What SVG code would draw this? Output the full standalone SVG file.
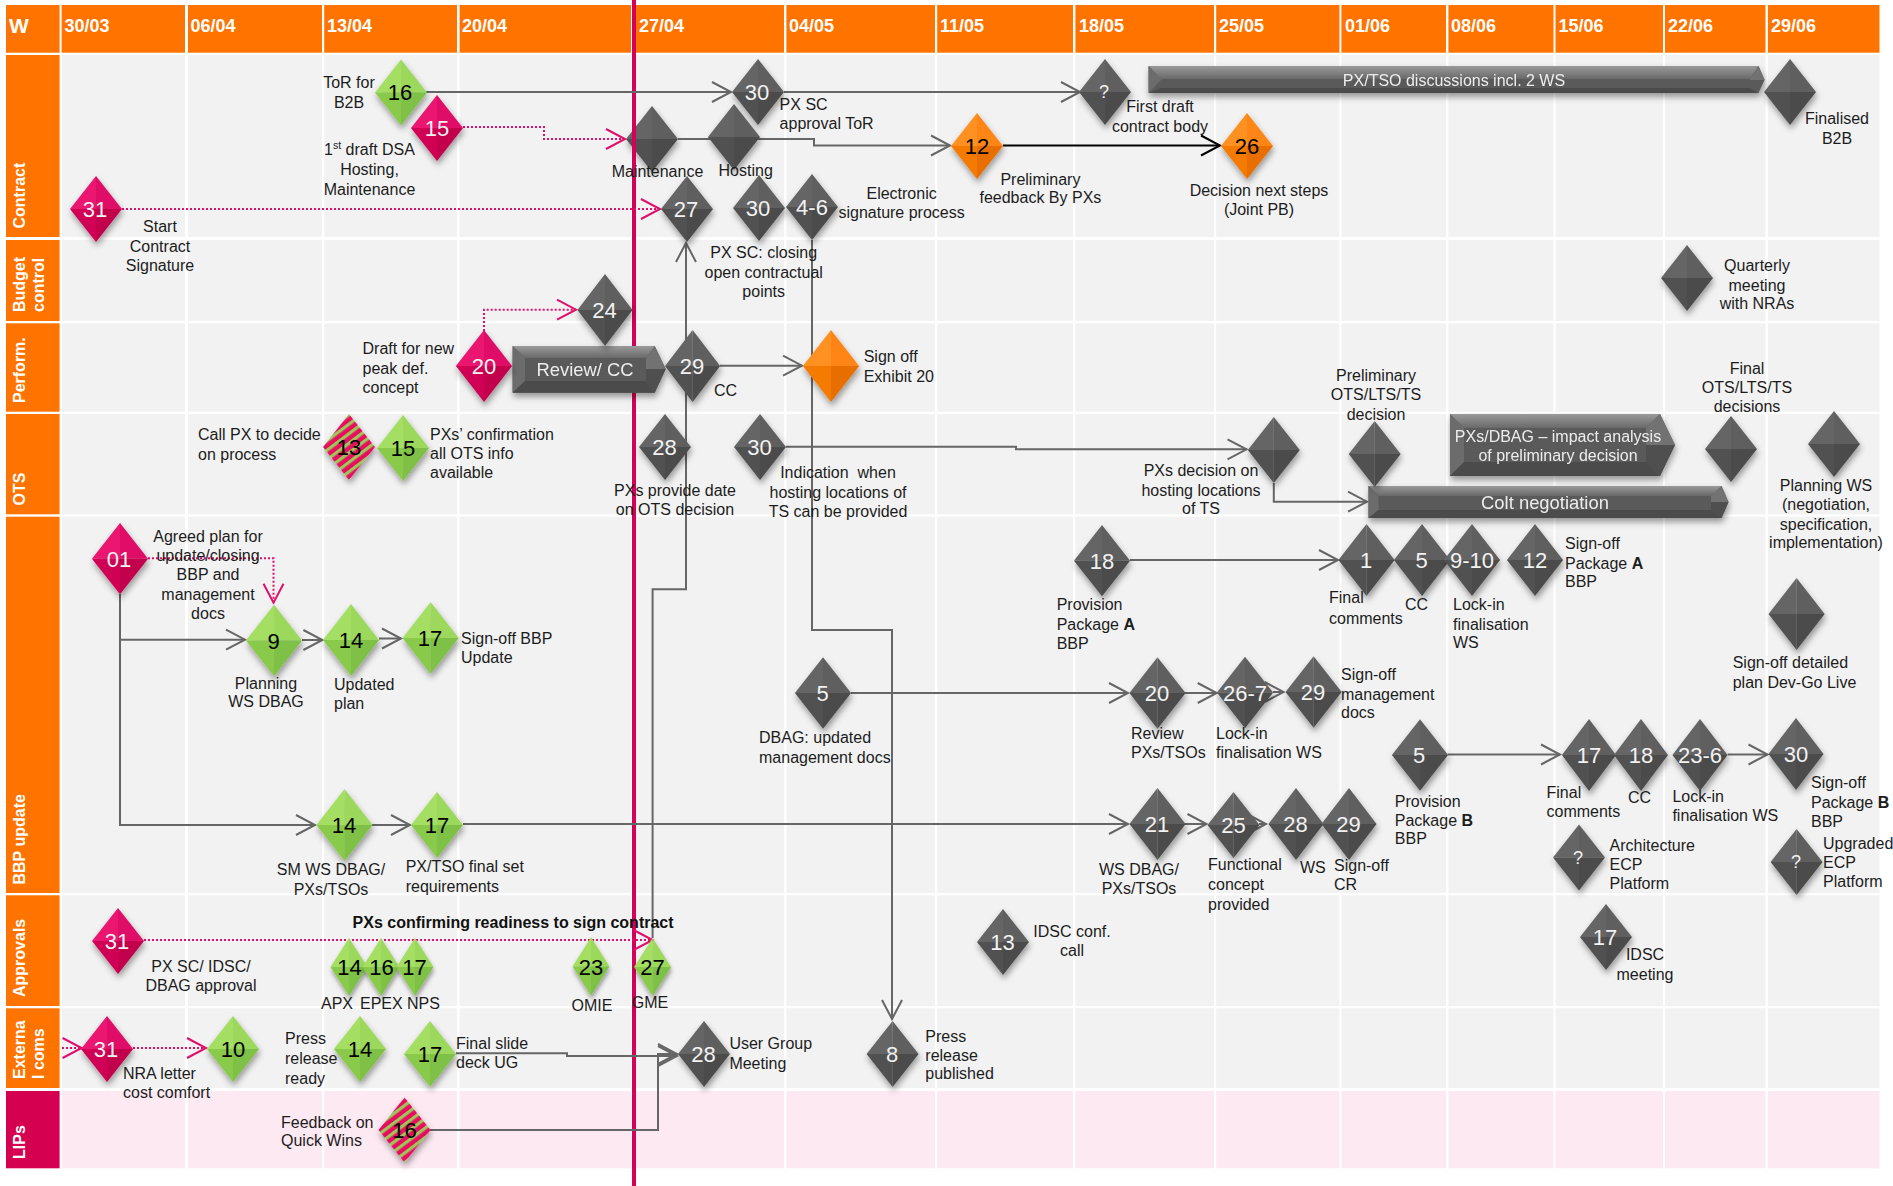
<svg xmlns="http://www.w3.org/2000/svg" width="1893" height="1186" viewBox="0 0 1893 1186">
<style>
.hd{fill:#FF7300}
.cell{fill:#F2F2F2}
.lip{fill:#FDE9F2}
.gl{fill:#fff}
text{font-family:"Liberation Sans",Arial,sans-serif}
.dt{font-size:18px;font-weight:bold;fill:#fff}
.rt{font-size:16px;font-weight:bold;fill:#fff}
.l{font-size:16px;fill:#1c1c1c}
.m{text-anchor:middle}
.nw{font-size:22px;fill:#f2f2f2;text-anchor:middle}
.nk{font-size:22px;fill:#000;text-anchor:middle}
.q{font-size:18px;fill:#f2f2f2;text-anchor:middle}
.s{filter:url(#sh)}
.cg{fill:none;stroke:#666;stroke-width:2;marker-end:url(#ag)}
.ck{fill:none;stroke:#000;stroke-width:2;marker-end:url(#ak)}
.cm{fill:none;stroke:#E0106A;stroke-width:2;stroke-dasharray:2 2;marker-end:url(#am)}
.cp{fill:none;stroke:#666;stroke-width:2}
.b0{fill:#5A5A5A}
.bt{fill:url(#bart)}
.bl{fill:#6C6C6C}
.bb{fill:#4C4C4C}
.br1{fill:#727272}
.br2{fill:#4F4F4F}
.bx{fill:#EDEDED;text-anchor:middle}
</style>
<defs>
<filter id="sh" x="-30%" y="-30%" width="160%" height="170%"><feDropShadow dx="1" dy="4" stdDeviation="3" flood-color="#000" flood-opacity="0.38"/></filter>
<linearGradient id="bart" x1="0" y1="0" x2="0" y2="1"><stop offset="0" stop-color="#9A9A9A"/><stop offset="1" stop-color="#696969"/></linearGradient>
<pattern id="stripes" patternUnits="userSpaceOnUse" width="7.6" height="7.6" patternTransform="rotate(-37)"><rect width="7.6" height="7.6" fill="#E8105F"/><rect width="7.6" height="3.2" fill="#9CC85A"/></pattern>
<marker id="ag" markerUnits="userSpaceOnUse" markerWidth="24" markerHeight="26" refX="21" refY="13" orient="auto" viewBox="0 0 24 26"><path d="M2 3L21 13L2 23" fill="none" stroke="#666" stroke-width="2"/></marker>
<marker id="ak" markerUnits="userSpaceOnUse" markerWidth="24" markerHeight="26" refX="21" refY="13" orient="auto" viewBox="0 0 24 26"><path d="M2 3L21 13L2 23" fill="none" stroke="#000" stroke-width="2"/></marker>
<marker id="am" markerUnits="userSpaceOnUse" markerWidth="24" markerHeight="26" refX="21" refY="13" orient="auto" viewBox="0 0 24 26"><path d="M2 3L21 13L2 23" fill="none" stroke="#E0106A" stroke-width="2"/></marker>
<g id="dg"><polygon points="0,-33 -26,0 0,0" fill="#656565"/><polygon points="0,-33 26,0 0,0" fill="#5F5F5F"/><polygon points="-26,0 0,33 0,0" fill="#515151"/><polygon points="26,0 0,33 0,0" fill="#4B4B4B"/></g>
<g id="dv"><polygon points="0,-33 -26,0 0,0" fill="#A4DE64"/><polygon points="0,-33 26,0 0,0" fill="#9BD85C"/><polygon points="-26,0 0,33 0,0" fill="#8ACA4C"/><polygon points="26,0 0,33 0,0" fill="#7FC046"/></g>
<g id="dm"><polygon points="0,-33 -26,0 0,0" fill="#EA1470"/><polygon points="0,-33 26,0 0,0" fill="#E00E68"/><polygon points="-26,0 0,33 0,0" fill="#D00055"/><polygon points="26,0 0,33 0,0" fill="#C2004C"/></g>
<g id="do"><polygon points="0,-33 -26,0 0,0" fill="#FF9020"/><polygon points="0,-33 26,0 0,0" fill="#FF8512"/><polygon points="-26,0 0,33 0,0" fill="#F57A05"/><polygon points="26,0 0,33 0,0" fill="#E86E00"/></g>
</defs>

<g id="grid">
<rect class="hd" x="6" y="5" width="53.6" height="47.7"/>
<rect class="hd" x="61.6" y="5" width="1817.9" height="47.7"/>
<rect class="cell" x="61.6" y="55" width="1817.9" height="182"/>
<rect class="cell" x="61.6" y="240" width="1817.9" height="81"/>
<rect class="cell" x="61.6" y="323.3" width="1817.9" height="88.4"/>
<rect class="cell" x="61.6" y="414" width="1817.9" height="100.3"/>
<rect class="cell" x="61.6" y="516.7" width="1817.9" height="376.3"/>
<rect class="cell" x="61.6" y="895.3" width="1817.9" height="110.7"/>
<rect class="cell" x="61.6" y="1008.3" width="1817.9" height="79.7"/>
<rect class="lip" x="61.6" y="1091" width="1817.9" height="77.3"/>
<rect class="gl" x="185" y="5" width="3" height="1164"/>
<rect class="gl" x="322" y="5" width="2.2" height="1164"/>
<rect class="gl" x="457" y="5" width="2.6" height="1164"/>
<rect class="gl" x="631" y="5" width="3" height="1164"/>
<rect class="gl" x="784" y="5" width="2.4" height="1164"/>
<rect class="gl" x="935" y="5" width="2.2" height="1164"/>
<rect class="gl" x="1073" y="5" width="2.4" height="1164"/>
<rect class="gl" x="1214" y="5" width="2.2" height="1164"/>
<rect class="gl" x="1339.4" y="5" width="2" height="1164"/>
<rect class="gl" x="1446" y="5" width="2.4" height="1164"/>
<rect class="gl" x="1553.5" y="5" width="2" height="1164"/>
<rect class="gl" x="1663" y="5" width="2" height="1164"/>
<rect class="gl" x="1765.5" y="5" width="2.4" height="1164"/>
<rect class="hd" x="6" y="55" width="53.6" height="182"/>
<rect class="hd" x="6" y="240" width="53.6" height="81"/>
<rect class="hd" x="6" y="323.3" width="53.6" height="88.4"/>
<rect class="hd" x="6" y="516.7" width="53.6" height="376.3"/>
<rect class="hd" x="6" y="414" width="53.6" height="100.3"/>
<rect class="hd" x="6" y="895.3" width="53.6" height="110.7"/>
<rect class="hd" x="6" y="1008.3" width="53.6" height="79.7"/>
<rect x="6" y="1091" width="53.6" height="77.3" fill="#D5004F"/>
</g>

<g id="headers">
<text x="9" y="33" font-size="21" font-weight="bold" fill="#fff">W</text>
<text class="dt" x="64.5" y="32">30/03</text>
<text class="dt" x="190.5" y="32">06/04</text>
<text class="dt" x="327" y="32">13/04</text>
<text class="dt" x="462" y="32">20/04</text>
<text class="dt" x="639" y="32">27/04</text>
<text class="dt" x="789" y="32">04/05</text>
<text class="dt" x="940" y="32">11/05</text>
<text class="dt" x="1079" y="32">18/05</text>
<text class="dt" x="1219" y="32">25/05</text>
<text class="dt" x="1345" y="32">01/06</text>
<text class="dt" x="1451" y="32">08/06</text>
<text class="dt" x="1558.5" y="32">15/06</text>
<text class="dt" x="1668" y="32">22/06</text>
<text class="dt" x="1771" y="32">29/06</text>
<text class="rt" transform="translate(25 228.5) rotate(-90)">Contract</text>
<text class="rt" transform="translate(25 312) rotate(-90)">Budget</text>
<text class="rt" transform="translate(44 312) rotate(-90)">control</text>
<text class="rt" transform="translate(25 403) rotate(-90)">Perform.</text>
<text class="rt" transform="translate(25 505.5) rotate(-90)">OTS</text>
<text class="rt" transform="translate(25 884.5) rotate(-90)">BBP update</text>
<text class="rt" transform="translate(25 997) rotate(-90)">Approvals</text>
<text class="rt" transform="translate(25 1079) rotate(-90)">Externa</text>
<text class="rt" transform="translate(44 1079) rotate(-90)">l coms</text>
<text class="rt" transform="translate(25 1159) rotate(-90)">LIPs</text>
</g>

<g id="n-maintenance"><use class="s" href="#dg" transform="translate(652 139)"/></g>

<rect id="today-line" x="632" y="0" width="4" height="1186" fill="#D50057"/>

<g id="connectors">
<path class="cg" d="M426 92H731"/>
<path class="cg" d="M784 92H1080"/>
<path class="cm" d="M463 127H544V139H625"/>
<path class="cm" d="M122 209H660"/>
<path class="cg" d="M678 139H814V145.5H950"/>
<path class="ck" d="M1003 145.5H1220"/>
<path class="cm" d="M484 331V309.7H576"/>
<path class="cg" d="M652.6 938V589.3H686V243"/>
<path class="cg" d="M812 240V630H892V1019"/>
<path class="cg" d="M720 365.7H802"/>
<path class="cg" d="M786 446.7H1016V449.3H1246.5"/>
<path class="cg" d="M1273.8 483V501.7H1367"/>
<path class="cg" d="M1130 560H1338"/>
<path class="cg" d="M851 693H1128"/>
<path class="cg" d="M1185 693H1216.7"/>
<path class="cg" d="M1273 692H1283.6"/>
<path class="cg" d="M1447.6 754.5H1560"/>
<path class="cg" d="M1727.7 754.5H1767.5"/>
<path class="cm" d="M148 558.3H273.5V602.7"/>
<path class="cg" d="M120 594V825H315"/>
<path class="cg" d="M120 639.7H245"/>
<path class="cg" d="M302 640H322.4"/>
<path class="cg" d="M379 638.5H401"/>
<path class="cg" d="M372 825H410"/>
<path class="cg" d="M463 824H1128"/>
<path class="cg" d="M1185 824H1206.5"/>
<path class="cg" d="M1259 824H1266"/>
<path class="cm" d="M144 940H652.6"/>
<path class="cm" d="M62 1048H81.6"/>
<path class="cm" d="M133 1048H206"/>
<path class="cg" d="M456 1053.3H567V1056H677"/>
<path class="cg" d="M430 1130H658V1054H677"/>
</g>

<g id="n-px-tso-bar" class="s">
<polygon class="b0" points="1148.6,66 1758.5,66 1764.6,80 1758.5,93 1148.6,93"/>
<polygon class="bt" points="1148.6,66 1758.5,66 1750,79 1161,79"/>
<polygon class="bl" points="1148.6,66 1161,79 1161,80 1148.6,93"/>
<polygon class="br1" points="1758.5,66 1764.6,80 1750,80 1750,79"/>
<polygon class="bb" points="1148.6,93 1758.5,93 1750,88 1161,88"/>
<text class="l bx" x="1454" y="86">PX/TSO discussions incl. 2 WS</text>
</g>
<g id="n-review-bar" class="s">
<polygon class="b0" points="512.6,346 654.7,346 665.7,369 654.7,392.7 512.6,392.7"/>
<polygon class="bt" points="512.6,346 654.7,346 646,358 525,358"/>
<polygon class="bl" points="512.6,346 525,358 525,381 512.6,392.7"/>
<polygon class="bb" points="512.6,392.7 654.7,392.7 646,381 525,381"/>
<polygon class="br1" points="654.7,346 665.7,369 646,369 646,358"/>
<polygon class="br2" points="665.7,369 654.7,392.7 646,381 646,369"/>
<text class="bx" x="585" y="376" font-size="18.4">Review/ CC</text>
</g>
<g id="n-impact-bar" class="s">
<polygon class="b0" points="1450,414 1660,414 1675,445 1660,476 1450,476"/>
<polygon class="bt" points="1450,414 1660,414 1646,428 1464,428"/>
<polygon class="bl" points="1450,414 1464,428 1464,462 1450,476"/>
<polygon class="bb" points="1450,476 1660,476 1646,462 1464,462"/>
<polygon class="br1" points="1660,414 1675,445 1646,445 1646,428"/>
<polygon class="br2" points="1675,445 1660,476 1646,462 1646,445"/>
<text class="l bx"><tspan x="1558" y="441.5">PXs/DBAG – impact analysis</tspan><tspan x="1558" y="460.5">of preliminary decision</tspan></text>
</g>
<g id="n-colt-bar" class="s">
<polygon class="b0" points="1368.5,486 1721.6,486 1728.5,502 1721.6,518 1368.5,518"/>
<polygon class="bt" points="1368.5,486 1721.6,486 1711,496 1378.5,496"/>
<polygon class="bl" points="1368.5,486 1378.5,496 1378.5,510 1368.5,518"/>
<polygon class="bb" points="1368.5,518 1721.6,518 1711,510 1378.5,510"/>
<polygon class="br1" points="1721.6,486 1728.5,502 1711,502 1711,496"/>
<polygon class="br2" points="1728.5,502 1721.6,518 1711,510 1711,502"/>
<text class="bx" x="1545" y="509" font-size="18.4">Colt negotiation</text>
</g>

<g id="n-c16"><use class="s" href="#dv" transform="translate(401 92.5)"/><text class="nk" x="400" y="100">16</text><text class="l m"><tspan x="349" y="88">ToR for</tspan><tspan x="349" y="107.5">B2B</tspan></text></g>
<g id="n-c15"><use class="s" href="#dm" transform="translate(437 128)"/><text class="nw" x="437" y="135.5">15</text><text class="l m"><tspan x="369.5" y="155">1<tspan dy="-6" font-size="10.5">st</tspan><tspan dy="6"> draft DSA</tspan></tspan><tspan x="369.5" y="174.5">Hosting,</tspan><tspan x="369.5" y="194.5">Maintenance</tspan></text></g>
<g id="n-c31"><use class="s" href="#dm" transform="translate(96 209)"/><text class="nw" x="95" y="217">31</text><text class="l m"><tspan x="160" y="232">Start</tspan><tspan x="160" y="251.5">Contract</tspan><tspan x="160" y="270.5">Signature</tspan></text></g>
<g id="n-c30a"><use class="s" href="#dg" transform="translate(758 92)"/><text class="nw" x="757" y="100">30</text><text class="l"><tspan x="779.6" y="110">PX SC</tspan><tspan x="779.6" y="129">approval ToR</tspan></text></g>
<g id="n-cq"><use class="s" href="#dg" transform="translate(1105 92)"/><text class="q" x="1104" y="98">?</text><text class="l m"><tspan x="1160" y="112">First draft</tspan><tspan x="1160" y="131.5">contract body</tspan></text></g>
<g id="n-hosting"><use class="s" href="#dg" transform="translate(734 137)"/><text class="l m" x="745.7" y="175.5">Hosting</text></g>
<g id="n-maintenance-label"><text class="l m" x="657.5" y="177">Maintenance</text></g>
<g id="n-c12"><use class="s" href="#do" transform="translate(977 146)"/><text class="nk" x="977" y="154">12</text><text class="l m"><tspan x="1040.4" y="184.5">Preliminary</tspan><tspan x="1040.4" y="203">feedback By PXs</tspan></text></g>
<g id="n-c26"><use class="s" href="#do" transform="translate(1247 146)"/><text class="nk" x="1247" y="154">26</text><text class="l m"><tspan x="1259" y="195.5">Decision next steps</tspan><tspan x="1259" y="214.5">(Joint PB)</tspan></text></g>
<g id="n-c27"><use class="s" href="#dg" transform="translate(687 209)"/><text class="nw" x="686" y="217">27</text></g>
<g id="n-c30b"><use class="s" href="#dg" transform="translate(759 208)"/><text class="nw" x="758" y="216">30</text><text class="l m"><tspan x="763.7" y="258">PX SC: closing</tspan><tspan x="763.7" y="277.5">open contractual</tspan><tspan x="763.7" y="296.5">points</tspan></text></g>
<g id="n-c46"><use class="s" href="#dg" transform="translate(812 207)"/><text class="nw" x="812" y="215">4-6</text><text class="l m"><tspan x="901.6" y="199">Electronic</tspan><tspan x="901.6" y="218">signature process</tspan></text></g>
<g id="n-cfinal"><use class="s" href="#dg" transform="translate(1790 92)"/><text class="l m"><tspan x="1837" y="124">Finalised</tspan><tspan x="1837" y="144">B2B</tspan></text></g>

<g id="n-b-quarterly"><use class="s" href="#dg" transform="translate(1687 278)"/><text class="l m"><tspan x="1757" y="271">Quarterly</tspan><tspan x="1757" y="290.5">meeting</tspan><tspan x="1757" y="309">with NRAs</tspan></text></g>
<g id="n-b24"><use class="s" href="#dg" transform="translate(605 310) scale(1.06 1.09)"/><text class="nw" x="604.5" y="318">24</text></g>

<g id="n-p20"><use class="s" href="#dm" transform="translate(484 366) scale(1.08 1.09)"/><text class="nw" x="484" y="374">20</text><text class="l"><tspan x="362.5" y="354">Draft for new</tspan><tspan x="362.5" y="374">peak def.</tspan><tspan x="362.5" y="393">concept</tspan></text></g>
<g id="n-p29"><use class="s" href="#dg" transform="translate(692.6 366) scale(1.06 1.09)"/><text class="nw" x="692" y="374">29</text><text class="l" x="714" y="395.5">CC</text></g>
<g id="n-psign"><use class="s" href="#do" transform="translate(831 366) scale(1.08 1.09)"/><text class="l"><tspan x="863.7" y="362">Sign off</tspan><tspan x="863.7" y="382">Exhibit 20</tspan></text></g>

<g id="n-o13"><polygon class="s" points="349,414 375,447 349,480 323,447" fill="url(#stripes)"/><text class="nk" x="349" y="455">13</text><text class="l"><tspan x="198" y="440">Call PX to decide</tspan><tspan x="198" y="459.5">on process</tspan></text></g>
<g id="n-o15"><use class="s" href="#dv" transform="translate(403 448)"/><text class="nk" x="403" y="456">15</text><text class="l"><tspan x="430" y="440">PXs’ confirmation</tspan><tspan x="430" y="459">all OTS info</tspan><tspan x="430" y="478">available</tspan></text></g>
<g id="n-o28"><use class="s" href="#dg" transform="translate(665 447)"/><text class="nw" x="664.5" y="455">28</text><text class="l m"><tspan x="675" y="495.5">PXs provide date</tspan><tspan x="675" y="515">on OTS decision</tspan></text></g>
<g id="n-o30"><use class="s" href="#dg" transform="translate(760 447)"/><text class="nw" x="759.5" y="455">30</text><text class="l m" xml:space="preserve"><tspan x="838" y="478">Indication  when</tspan><tspan x="838" y="498">hosting locations of</tspan><tspan x="838" y="517">TS can be provided</tspan></text></g>
<g id="n-o-decision"><use class="s" href="#dg" transform="translate(1273.8 450)"/><text class="l m"><tspan x="1201" y="476">PXs decision on</tspan><tspan x="1201" y="495.5">hosting locations</tspan><tspan x="1201" y="514">of TS</tspan></text></g>
<g id="n-o-prelim"><use class="s" href="#dg" transform="translate(1374.7 454)"/><text class="l m"><tspan x="1376" y="381">Preliminary</tspan><tspan x="1376" y="400">OTS/LTS/TS</tspan><tspan x="1376" y="419.5">decision</tspan></text></g>
<g id="n-o-final"><use class="s" href="#dg" transform="translate(1731 449)"/><text class="l m"><tspan x="1747" y="374">Final</tspan><tspan x="1747" y="393">OTS/LTS/TS</tspan><tspan x="1747" y="412">decisions</tspan></text></g>
<g id="n-o-planning"><use class="s" href="#dg" transform="translate(1834 444)"/><text class="l m"><tspan x="1826" y="490.5">Planning WS</tspan><tspan x="1826" y="509.5">(negotiation,</tspan><tspan x="1826" y="529.5">specification,</tspan><tspan x="1826" y="548">implementation)</tspan></text></g>

<g id="n-b01"><use class="s" href="#dm" transform="translate(120 558.7) scale(1.08 1.08)"/><text class="nw" x="119" y="567">01</text><text class="l m"><tspan x="208" y="542">Agreed plan for</tspan><tspan x="208" y="561">update/closing</tspan><tspan x="208" y="580">BBP and</tspan><tspan x="208" y="600">management</tspan><tspan x="208" y="619">docs</tspan></text></g>
<g id="n-b9"><use class="s" href="#dv" transform="translate(274 640.5) scale(1.08 1.08)"/><text class="nk" x="273.5" y="648.5">9</text><text class="l m"><tspan x="266" y="688.5">Planning</tspan><tspan x="266" y="707">WS DBAG</tspan></text></g>
<g id="n-b14"><use class="s" href="#dv" transform="translate(351 640) scale(1.08 1.09)"/><text class="nk" x="351" y="648">14</text><text class="l"><tspan x="334" y="690">Updated</tspan><tspan x="334" y="709">plan</tspan></text></g>
<g id="n-b17"><use class="s" href="#dv" transform="translate(430.6 638) scale(1.08 1.09)"/><text class="nk" x="430" y="646">17</text><text class="l"><tspan x="461" y="644">Sign-off BBP</tspan><tspan x="461" y="663">Update</tspan></text></g>
<g id="n-b18"><use class="s" href="#dg" transform="translate(1102 560.7) scale(1.08 1.08)"/><text class="nw" x="1102" y="569">18</text><text class="l"><tspan x="1056.7" y="610">Provision</tspan><tspan x="1056.7" y="630">Package <tspan font-weight="bold">A</tspan></tspan><tspan x="1056.7" y="649">BBP</tspan></text></g>
<g id="n-b1"><use class="s" href="#dg" transform="translate(1366.5 560) scale(1.08 1.09)"/><text class="nw" x="1366" y="568">1</text><text class="l"><tspan x="1329" y="603">Final</tspan><tspan x="1329" y="623.5">comments</tspan></text></g>
<g id="n-b5a"><use class="s" href="#dg" transform="translate(1422 560) scale(1.08 1.09)"/><text class="nw" x="1421.5" y="568">5</text><text class="l" x="1405" y="610">CC</text></g>
<g id="n-b910"><use class="s" href="#dg" transform="translate(1472 560) scale(1.08 1.09)"/><text class="nw" x="1472" y="568">9-10</text><text class="l"><tspan x="1453" y="610">Lock-in</tspan><tspan x="1453" y="629.5">finalisation</tspan><tspan x="1453" y="648">WS</tspan></text></g>
<g id="n-b12"><use class="s" href="#dg" transform="translate(1535 560) scale(1.08 1.09)"/><text class="nw" x="1535" y="568">12</text><text class="l"><tspan x="1565" y="549">Sign-off</tspan><tspan x="1565" y="568.5">Package <tspan font-weight="bold">A</tspan></tspan><tspan x="1565" y="587">BBP</tspan></text></g>
<g id="n-b-detailed"><use class="s" href="#dg" transform="translate(1796.6 614) scale(1.08 1.09)"/><text class="l"><tspan x="1732.7" y="668">Sign-off detailed</tspan><tspan x="1732.7" y="687.5">plan Dev-Go Live</tspan></text></g>
<g id="n-b5b"><use class="s" href="#dg" transform="translate(823 693) scale(1.08 1.08)"/><text class="nw" x="822.5" y="701">5</text><text class="l"><tspan x="759" y="743">DBAG: updated</tspan><tspan x="759" y="762.5">management docs</tspan></text></g>
<g id="n-b20"><use class="s" href="#dg" transform="translate(1157.5 693) scale(1.08 1.08)"/><text class="nw" x="1157" y="701">20</text><text class="l"><tspan x="1131" y="739">Review</tspan><tspan x="1131" y="758">PXs/TSOs</tspan></text></g>
<g id="n-b267"><use class="s" href="#dg" transform="translate(1245 692.5) scale(1.08 1.08)"/><text class="nw" x="1245" y="700.5">26-7</text><text class="l"><tspan x="1216" y="739">Lock-in</tspan><tspan x="1216" y="758">finalisation WS</tspan></text></g>
<g id="n-b29a"><use class="s" href="#dg" transform="translate(1313.6 692) scale(1.08 1.08)"/><text class="nw" x="1313" y="700">29</text><text class="l"><tspan x="1341" y="680">Sign-off</tspan><tspan x="1341" y="699.5">management</tspan><tspan x="1341" y="718">docs</tspan></text></g>
<g id="n-b5c"><use class="s" href="#dg" transform="translate(1420 755) scale(1.08 1.08)"/><text class="nw" x="1419" y="763">5</text><text class="l"><tspan x="1394.8" y="806.5">Provision</tspan><tspan x="1394.8" y="825.5">Package <tspan font-weight="bold">B</tspan></tspan><tspan x="1394.8" y="844">BBP</tspan></text></g>
<g id="n-b17b"><use class="s" href="#dg" transform="translate(1589 755) scale(1.04 1.09)"/><text class="nw" x="1589" y="763">17</text><text class="l"><tspan x="1546.5" y="797.5">Final</tspan><tspan x="1546.5" y="817">comments</tspan></text></g>
<g id="n-b18b"><use class="s" href="#dg" transform="translate(1641 755) scale(1.04 1.09)"/><text class="nw" x="1641" y="763">18</text><text class="l" x="1628" y="803">CC</text></g>
<g id="n-b236"><use class="s" href="#dg" transform="translate(1700 755) scale(1.06 1.09)"/><text class="nw" x="1700" y="763">23-6</text><text class="l"><tspan x="1672.4" y="801.5">Lock-in</tspan><tspan x="1672.4" y="820.5">finalisation WS</tspan></text></g>
<g id="n-b30"><use class="s" href="#dg" transform="translate(1796 754) scale(1.06 1.09)"/><text class="nw" x="1796" y="762">30</text><text class="l"><tspan x="1811" y="788">Sign-off</tspan><tspan x="1811" y="807.5">Package <tspan font-weight="bold">B</tspan></tspan><tspan x="1811" y="827">BBP</tspan></text></g>
<g id="n-b14b"><use class="s" href="#dv" transform="translate(344.5 825) scale(1.08 1.09)"/><text class="nk" x="344" y="833">14</text><text class="l m"><tspan x="331" y="875">SM WS DBAG/</tspan><tspan x="331" y="895">PXs/TSOs</tspan></text></g>
<g id="n-b17c"><use class="s" href="#dv" transform="translate(437 825)"/><text class="nk" x="437" y="833">17</text><text class="l"><tspan x="405.7" y="872">PX/TSO final set</tspan><tspan x="405.7" y="891.5">requirements</tspan></text></g>
<g id="n-b21"><use class="s" href="#dg" transform="translate(1157.5 824) scale(1.08 1.09)"/><text class="nw" x="1157" y="832">21</text><text class="l m"><tspan x="1139" y="875">WS DBAG/</tspan><tspan x="1139" y="894">PXs/TSOs</tspan></text></g>
<g id="n-b25"><use class="s" href="#dg" transform="translate(1233.5 825)"/><text class="nw" x="1233.5" y="833">25</text><text class="l"><tspan x="1208" y="870">Functional</tspan><tspan x="1208" y="889.5">concept</tspan><tspan x="1208" y="909.5">provided</tspan></text></g>
<g id="n-b28"><use class="s" href="#dg" transform="translate(1296 824) scale(1.06 1.09)"/><text class="nw" x="1295.5" y="832">28</text><text class="l" x="1300" y="873">WS</text></g>
<g id="n-b29b"><use class="s" href="#dg" transform="translate(1349 824) scale(1.06 1.09)"/><text class="nw" x="1348.5" y="832">29</text><text class="l"><tspan x="1334" y="871">Sign-off</tspan><tspan x="1334" y="890">CR</tspan></text></g>
<g id="n-bq1"><use class="s" href="#dg" transform="translate(1579 857.5)"/><text class="q" x="1578" y="863.5">?</text><text class="l"><tspan x="1609.6" y="851">Architecture</tspan><tspan x="1609.6" y="870">ECP</tspan><tspan x="1609.6" y="889">Platform</tspan></text></g>
<g id="n-bq2"><use class="s" href="#dg" transform="translate(1796.6 862)"/><text class="q" x="1796" y="868">?</text><text class="l"><tspan x="1823" y="849">Upgraded</tspan><tspan x="1823" y="868">ECP</tspan><tspan x="1823" y="887">Platform</tspan></text></g>

<g id="n-a31"><use class="s" href="#dm" transform="translate(118 941)"/><text class="nw" x="117" y="949">31</text><text class="l m"><tspan x="201" y="972">PX SC/ IDSC/</tspan><tspan x="201" y="991">DBAG approval</tspan></text></g>
<text id="t-readiness" x="352.6" y="927.5" font-size="16" font-weight="bold" fill="#111">PXs confirming readiness to sign contract</text>
<g id="n-a14"><use class="s" href="#dv" transform="translate(349 967) scale(.71 .88)"/><text class="nk" x="349.5" y="975">14</text><text class="l" x="321" y="1009">APX</text></g>
<g id="n-a16"><use class="s" href="#dv" transform="translate(381 967) scale(.71 .88)"/><text class="nk" x="381.5" y="975">16</text><text class="l" x="360" y="1009">EPEX</text></g>
<g id="n-a17"><use class="s" href="#dv" transform="translate(415 967) scale(.71 .88)"/><text class="nk" x="414.5" y="975">17</text><text class="l" x="407" y="1009">NPS</text></g>
<g id="n-a23"><use class="s" href="#dv" transform="translate(591 966.5) scale(.71 .89)"/><text class="nk" x="591" y="974.5">23</text><text class="l m" x="592" y="1011">OMIE</text></g>
<g id="n-a27"><use class="s" href="#dv" transform="translate(652.6 967) scale(.71 .88)"/><text class="nk" x="652.5" y="975">27</text><text class="l m" x="650" y="1008">GME</text></g>
<g id="n-a13"><use class="s" href="#dg" transform="translate(1003 942)"/><text class="nw" x="1002.5" y="950">13</text><text class="l m"><tspan x="1072" y="937">IDSC conf.</tspan><tspan x="1072" y="956">call</tspan></text></g>
<g id="n-a17b"><use class="s" href="#dg" transform="translate(1606 937)"/><text class="nw" x="1605" y="945">17</text><text class="l m"><tspan x="1645" y="960">IDSC</tspan><tspan x="1645" y="979.5">meeting</tspan></text></g>

<g id="n-e31"><use class="s" href="#dm" transform="translate(107 1049)"/><text class="nw" x="106" y="1057">31</text><text class="l"><tspan x="123" y="1078.5">NRA letter</tspan><tspan x="123" y="1097.5">cost comfort</tspan></text></g>
<g id="n-e10"><use class="s" href="#dv" transform="translate(233 1049)"/><text class="nk" x="233" y="1057">10</text></g>
<g id="n-e14"><use class="s" href="#dv" transform="translate(360 1049)"/><text class="nk" x="360" y="1057">14</text><text class="l"><tspan x="285" y="1044">Press</tspan><tspan x="285" y="1064">release</tspan><tspan x="285" y="1083.5">ready</tspan></text></g>
<g id="n-e17"><use class="s" href="#dv" transform="translate(430 1054)"/><text class="nk" x="430" y="1062">17</text><text class="l"><tspan x="456" y="1049">Final slide</tspan><tspan x="456" y="1068">deck UG</tspan></text></g>
<g id="n-e28"><use class="s" href="#dg" transform="translate(704 1054)"/><text class="nw" x="703.5" y="1062">28</text><text class="l"><tspan x="729.4" y="1049">User Group</tspan><tspan x="729.4" y="1068.5">Meeting</tspan></text></g>
<g id="n-e8"><use class="s" href="#dg" transform="translate(892.6 1054)"/><text class="nw" x="892" y="1062">8</text><text class="l"><tspan x="925.3" y="1041.5">Press</tspan><tspan x="925.3" y="1060.5">release</tspan><tspan x="925.3" y="1079">published</tspan></text></g>

<g id="n-l16"><polygon class="s" points="404.5,1097.5 430.5,1130 404.5,1162.5 378.5,1130" fill="url(#stripes)"/><text class="nk" x="404.5" y="1138">16</text><text class="l"><tspan x="281" y="1127.5">Feedback on</tspan><tspan x="281" y="1146">Quick Wins</tspan></text></g>
</svg>
